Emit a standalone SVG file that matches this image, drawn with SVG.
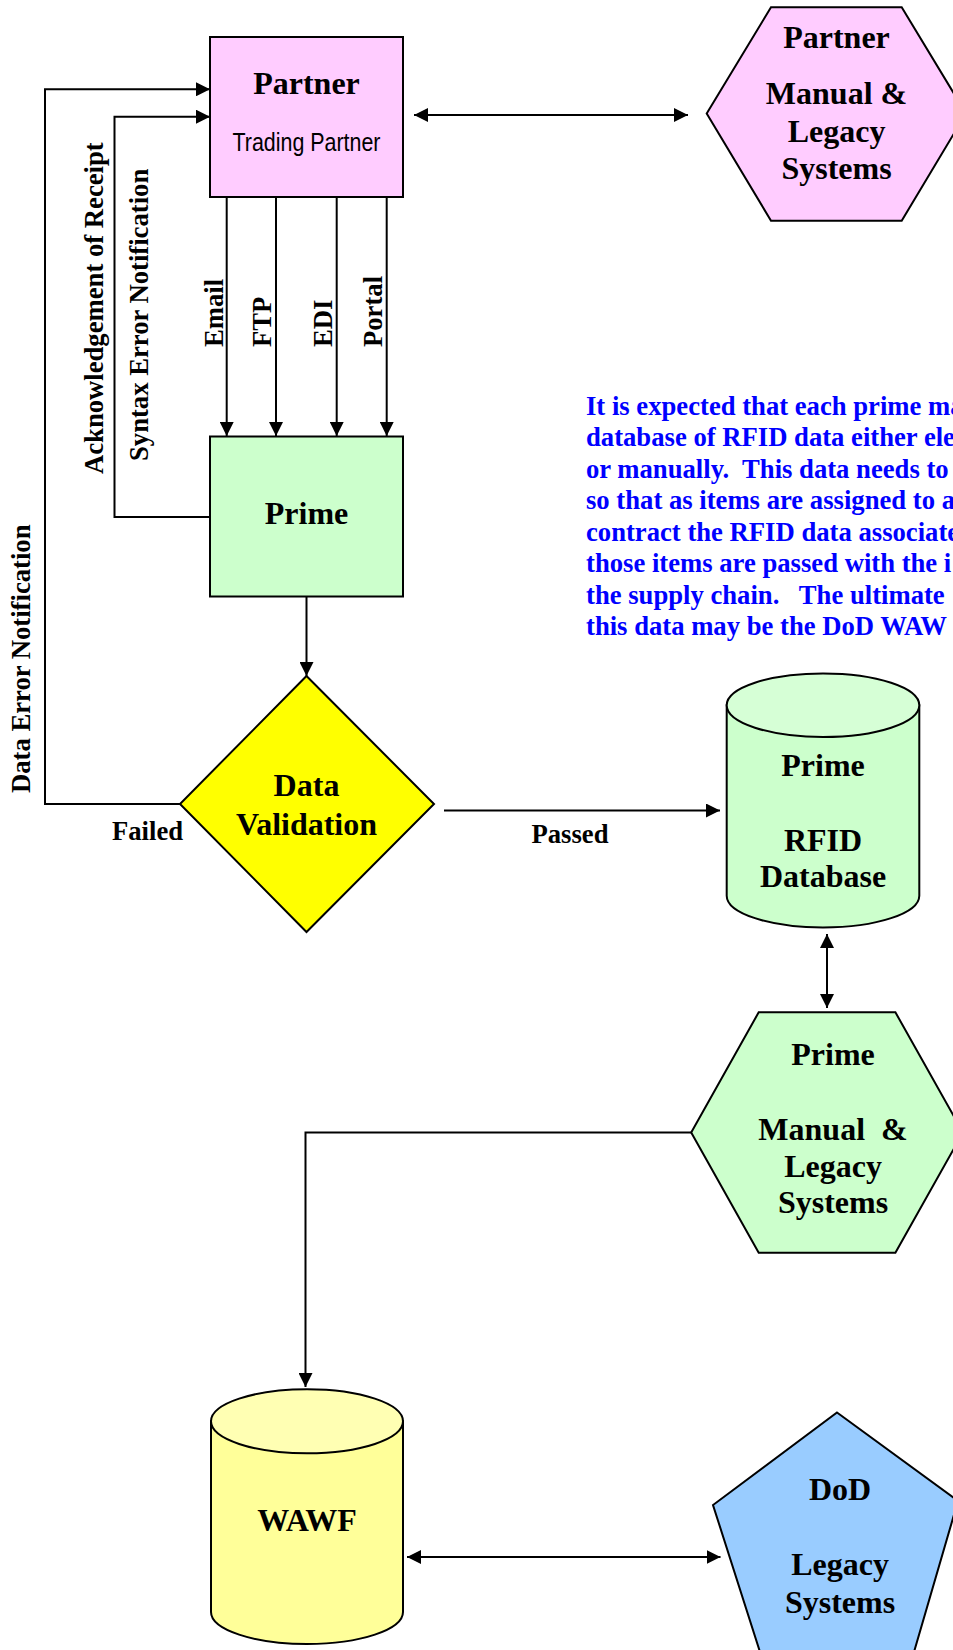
<svg xmlns="http://www.w3.org/2000/svg" width="953" height="1650" viewBox="0 0 953 1650">
<style>
.big{font-family:"Liberation Serif","Times New Roman",serif;font-weight:bold;font-size:32px;text-anchor:middle;fill:#000}
.lab{font-family:"Liberation Serif","Times New Roman",serif;font-weight:bold;font-size:26.67px;fill:#000}
.note{font-family:"Liberation Serif","Times New Roman",serif;font-weight:bold;font-size:26.67px;fill:#0000FF}
.sans{font-family:"Liberation Sans",Arial,sans-serif;font-size:26.67px;text-anchor:middle;fill:#000}
.shape{stroke:#000;stroke-width:2}
.conn{fill:none;stroke:#000;stroke-width:2}
</style>
<defs>
<marker id="arr" markerUnits="userSpaceOnUse" markerWidth="14" markerHeight="14" viewBox="0 0 14 14" refX="14" refY="7" orient="auto-start-reverse">
<path d="M0,0 L14,7 L0,14 Z" fill="#000"/>
</marker>
</defs>

<g id="connectors">
<line class="conn" x1="226.7" y1="197" x2="226.7" y2="436" marker-end="url(#arr)"/>
<line class="conn" x1="276" y1="197" x2="276" y2="436" marker-end="url(#arr)"/>
<line class="conn" x1="336.7" y1="197" x2="336.7" y2="436" marker-end="url(#arr)"/>
<line class="conn" x1="386.7" y1="197" x2="386.7" y2="436" marker-end="url(#arr)"/>
<polyline class="conn" points="210,517 114.5,517 114.5,116.7 210,116.7" marker-end="url(#arr)"/>
<polyline class="conn" points="180,804 45,804 45,89.3 210,89.3" marker-end="url(#arr)"/>
<line class="conn" x1="306.5" y1="596.5" x2="306.5" y2="676" marker-end="url(#arr)"/>
<line class="conn" x1="444" y1="810.5" x2="720" y2="810.5" marker-end="url(#arr)"/>
<line class="conn" x1="414" y1="115" x2="688" y2="115" marker-start="url(#arr)" marker-end="url(#arr)"/>
<line class="conn" x1="827" y1="934" x2="827" y2="1008" marker-start="url(#arr)" marker-end="url(#arr)"/>
<polyline class="conn" points="691,1132.5 305.5,1132.5 305.5,1387" marker-end="url(#arr)"/>
<line class="conn" x1="407" y1="1557" x2="720.5" y2="1557" marker-start="url(#arr)" marker-end="url(#arr)"/>
<text class="lab" transform="translate(223,347) rotate(-90)">Email</text>
<text class="lab" transform="translate(271,347) rotate(-90)">FTP</text>
<text class="lab" transform="translate(332,347) rotate(-90)">EDI</text>
<text class="lab" transform="translate(382,347) rotate(-90)">Portal</text>
<text class="lab" transform="translate(102.5,474) rotate(-90)">Acknowledgement of Receipt</text>
<text class="lab" transform="translate(148,461) rotate(-90)">Syntax Error Notification</text>
<text class="lab" transform="translate(29.5,793) rotate(-90)">Data Error Notification</text>
<text class="lab" x="112" y="839.5">Failed</text>
<text class="lab" x="531.5" y="842.5">Passed</text>
</g>

<g id="partner">
<rect class="shape" x="210" y="37" width="193" height="160" fill="#FFCCFF"/>
<text class="big" x="306.5" y="94">Partner</text>
<text class="sans" x="306.5" y="151" textLength="148" lengthAdjust="spacingAndGlyphs">Trading Partner</text>
</g>

<g id="partner-legacy">
<polygon class="shape" points="771,7.3 901.7,7.3 966,113.5 901.7,220.7 771,220.7 706.7,113.5" fill="#FFCCFF"/>
<text class="big" x="836.5" y="48">Partner</text>
<text class="big" x="836.5" y="104">Manual &amp;</text>
<text class="big" x="836.5" y="142">Legacy</text>
<text class="big" x="836.5" y="179">Systems</text>
</g>

<g id="prime">
<rect class="shape" x="210" y="436.5" width="193" height="160" fill="#CCFFCC"/>
<text class="big" x="306.5" y="523.5">Prime</text>
</g>

<g id="data-validation">
<polygon class="shape" points="306.5,676 434,804 306.5,932 180,804" fill="#FFFF00" stroke-width="1.5"/>
<text class="big" x="306.5" y="796">Data</text>
<text class="big" x="306.5" y="835">Validation</text>
</g>

<g id="note">
<text class="note" xml:space="preserve"><tspan x="586" y="414.5">It is expected that each prime ma</tspan><tspan x="586" y="446">database of RFID data either ele</tspan><tspan x="586" y="477.5">or manually.  This data needs to</tspan><tspan x="586" y="509">so that as items are assigned to a</tspan><tspan x="586" y="540.5">contract the RFID data associate</tspan><tspan x="586" y="572">those items are passed with the i</tspan><tspan x="586" y="603.5">the supply chain.   The ultimate</tspan><tspan x="586" y="635">this data may be the DoD WAW</tspan></text>
</g>

<g id="prime-rfid-db">
<path class="shape" d="M726.7,705.2 V895.7 A96.3,31.8 0 0 0 919.3,895.7 V705.2 Z" fill="#CCFFCC"/>
<ellipse class="shape" cx="823" cy="705.2" rx="96.3" ry="31.8" fill="#D6FFD6"/>
<text class="big" x="823" y="776">Prime</text>
<text class="big" x="823" y="850.5">RFID</text>
<text class="big" x="823" y="887">Database</text>
</g>

<g id="prime-legacy">
<polygon class="shape" points="758.7,1012.3 895.4,1012.3 963,1132.5 895.4,1252.7 758.7,1252.7 691.2,1132.5" fill="#CCFFCC"/>
<text class="big" x="833" y="1065">Prime</text>
<text class="big" x="833" y="1139.5" xml:space="preserve">Manual  &amp;</text>
<text class="big" x="833" y="1176.5">Legacy</text>
<text class="big" x="833" y="1213">Systems</text>
</g>

<g id="wawf">
<path class="shape" d="M211,1421.3 V1612 A96,32 0 0 0 403,1612 V1421.3 Z" fill="#FFFF99"/>
<ellipse class="shape" cx="307" cy="1421.3" rx="96" ry="32" fill="#FFFFB3"/>
<text class="big" x="307" y="1530.5">WAWF</text>
</g>

<g id="dod-legacy">
<polygon class="shape" points="837,1412.5 958,1501 914,1652 760,1652 713,1505" fill="#99CCFF"/>
<text class="big" x="840" y="1499.5">DoD</text>
<text class="big" x="840" y="1575">Legacy</text>
<text class="big" x="840" y="1612.8">Systems</text>
</g>
</svg>
